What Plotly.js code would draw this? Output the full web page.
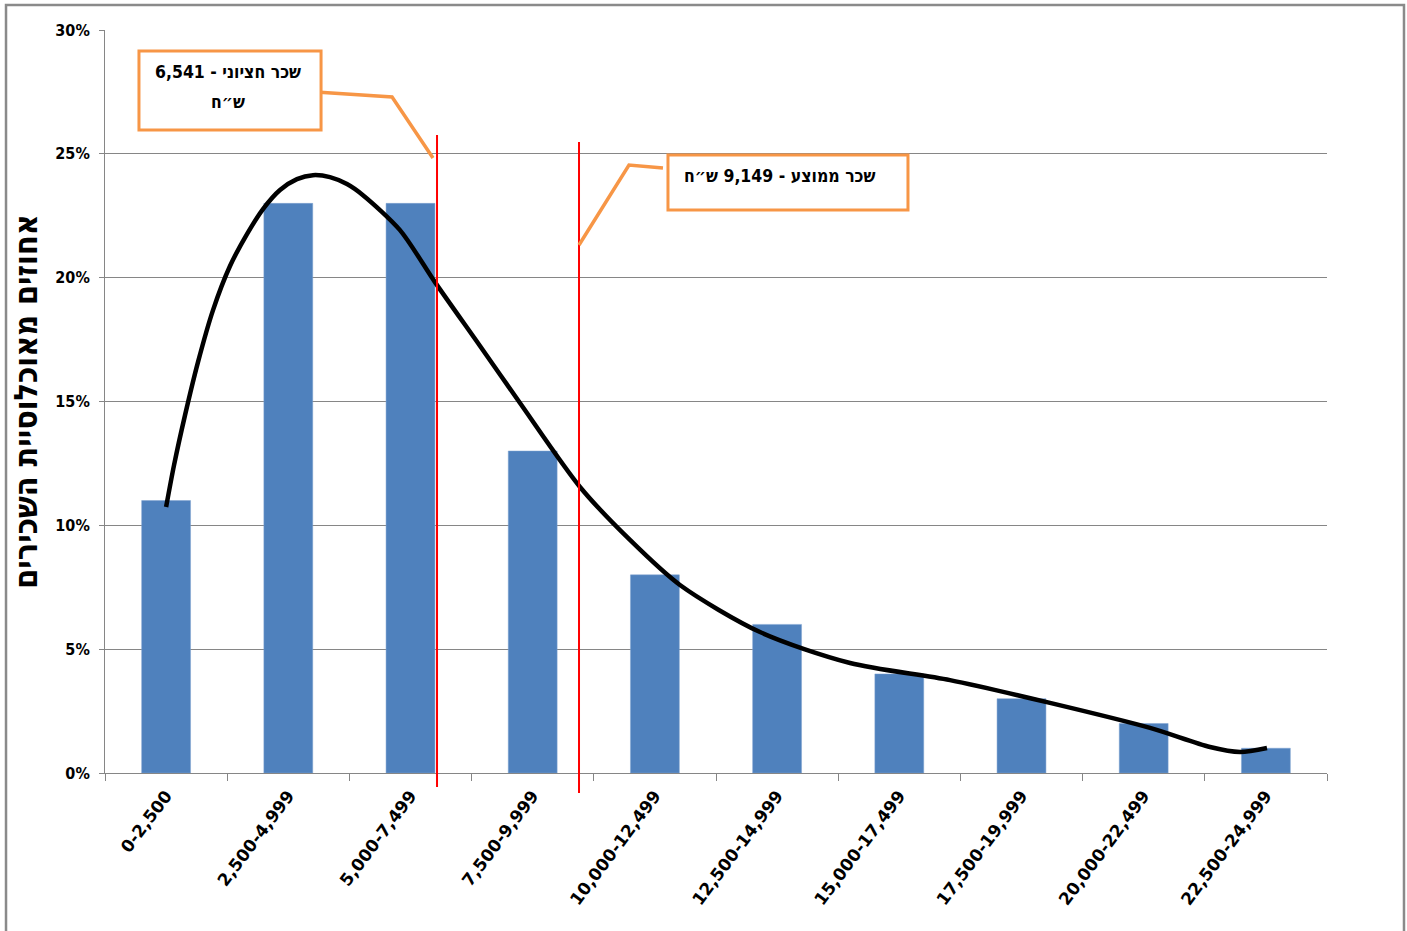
<!DOCTYPE html>
<html>
<head>
<meta charset="utf-8">
<script src="https://cdn.plot.ly/plotly-3.0.1.min.js"></script>
<style>
html,body{margin:0;padding:0;background:#fff;}
#chart{width:1407px;height:931px;}
</style>
</head>
<body>
<div id="chart"></div>
<script>
// ---- data ----
const categories = ["0-2,500","2,500-4,999","5,000-7,499","7,500-9,999","10,000-12,499","12,500-14,999","15,000-17,499","17,500-19,999","20,000-22,499","22,500-24,999"];
const shares = [11, 23, 23, 13, 8, 6, 4, 3, 2, 1];
// smoothed trend curve (category index, percent)
const curveX = [0.00, 0.065, 0.155, 0.261, 0.384, 0.523, 0.662, 0.793, 0.932, 1.071, 1.202, 1.341, 1.480, 1.611, 1.914, 2.200, 2.569, 2.896, 3.387, 3.796, 4.205, 4.860, 5.597, 6.415, 7.233, 8.052, 8.543, 8.788, 9.009];
const curveY = [10.74, 12.43, 14.45, 16.59, 18.69, 20.47, 21.76, 22.77, 23.54, 23.98, 24.14, 24.06, 23.78, 23.33, 21.92, 19.82, 17.24, 14.94, 11.55, 9.41, 7.59, 5.69, 4.44, 3.75, 2.83, 1.82, 1.05, 0.85, 1.01];
// marker lines (median & mean positions on the category index scale)
const medianPos = 2.217;
const meanPos = 3.379;
const medianLabel1 = "שכר חציוני - 6,541";
const medianLabel2 = "ש״ח";
const meanLabel = "שכר ממוצע - 9,149 ש״ח";
const yTitle = "אחוזים מאוכלוסיית השכירים";

const grey = '#868686';
const orange = '#F79646';
const condFont = (size) => ({family: 'DejaVu Sans Condensed, DejaVu Sans, sans-serif', size: size, color: '#000', weight: 'bold'});
const wideFont = (size) => ({family: 'DejaVu Sans, sans-serif', size: size, color: '#000', weight: 'bold'});

const traces = [
  {
    type: 'bar', x: categories, y: shares,
    marker: {color: '#4F81BD', line: {color: '#7FA3D0', width: 0.5}},
    width: 0.4, hoverinfo: 'x+y', xaxis: 'x', yaxis: 'y'
  },
  {
    type: 'scatter', mode: 'lines', x: curveX, y: curveY,
    line: {color: '#000', width: 4.5, shape: 'spline', smoothing: 0.8},
    xaxis: 'x2', yaxis: 'y', hoverinfo: 'skip'
  }
];

const layout = {
  width: 1407, height: 931,
  margin: {l: 105, r: 80, t: 30, b: 158},
  paper_bgcolor: '#fff', plot_bgcolor: '#fff',
  showlegend: false,
  xaxis: {
    type: 'category', categoryorder: 'array', categoryarray: categories,
    range: [-0.5, 9.5],
    showgrid: false, showline: true, linecolor: grey, linewidth: 1,
    ticks: 'outside', tickson: 'boundaries', ticklen: 7, tickcolor: grey,
    tickangle: -53, tickfont: wideFont(17), ticklabelstandoff: 5, zeroline: false
  },
  xaxis2: {overlaying: 'x', range: [-0.5, 9.5], visible: false, fixedrange: true},
  yaxis: {
    range: [0, 30], dtick: 5, ticksuffix: '%',
    showgrid: true, gridcolor: grey, gridwidth: 1,
    showline: true, linecolor: grey, linewidth: 1,
    ticks: 'outside', ticklen: 5, tickcolor: grey,
    tickfont: condFont(16), ticklabelstandoff: 6, zeroline: false,
    title: {text: yTitle, font: condFont(32), standoff: 8}
  },
  shapes: [
    // outer frame
    {type: 'rect', xref: 'paper', yref: 'paper', x0: -0.0810, x1: 1.0630, y0: -0.25, y1: 1.0337,
     line: {color: '#8a8a8a', width: 2.5}, fillcolor: 'rgba(0,0,0,0)', layer: 'above'},
    // median & mean lines
    {type: 'line', xref: 'x2', yref: 'paper', x0: medianPos, x1: medianPos, y0: -0.0188, y1: 0.8587,
     line: {color: '#FF0000', width: 2}},
    {type: 'line', xref: 'x2', yref: 'paper', x0: meanPos, x1: meanPos, y0: -0.0269, y1: 0.8493,
     line: {color: '#FF0000', width: 2}},
    // callout connectors
    {type: 'path', xref: 'paper', yref: 'paper', path: 'M0.1727,0.9166 L0.2349,0.9098 L0.2684,0.8277',
     line: {color: orange, width: 3.5}},
    {type: 'path', xref: 'paper', yref: 'paper', path: 'M0.4566,0.8143 L0.4288,0.8183 L0.3879,0.7106',
     line: {color: orange, width: 3.5}},
    // callout boxes
    {type: 'rect', xref: 'paper', yref: 'paper', x0: 0.0278, x1: 0.1768, y0: 0.8654, y1: 0.9717,
     line: {color: orange, width: 3}, fillcolor: '#fff'},
    {type: 'rect', xref: 'paper', yref: 'paper', x0: 0.4607, x1: 0.6571, y0: 0.7577, y1: 0.8318,
     line: {color: orange, width: 3}, fillcolor: '#fff'}
  ],
  annotations: [
    {xref: 'paper', yref: 'paper', x: 0.1007, y: 0.9435, xanchor: 'center', yanchor: 'middle',
     text: medianLabel1, showarrow: false, font: condFont(17.5)},
    {xref: 'paper', yref: 'paper', x: 0.1007, y: 0.9031, xanchor: 'center', yanchor: 'middle',
     text: medianLabel2, showarrow: false, font: condFont(17.5)},
    {xref: 'paper', yref: 'paper', x: 0.4722, y: 0.8035, xanchor: 'left', yanchor: 'middle',
     text: meanLabel, showarrow: false, align: 'left', font: condFont(17.5)}
  ]
};

Plotly.newPlot('chart', traces, layout, {displayModeBar: false, staticPlot: true});
</script>
</body>
</html>
